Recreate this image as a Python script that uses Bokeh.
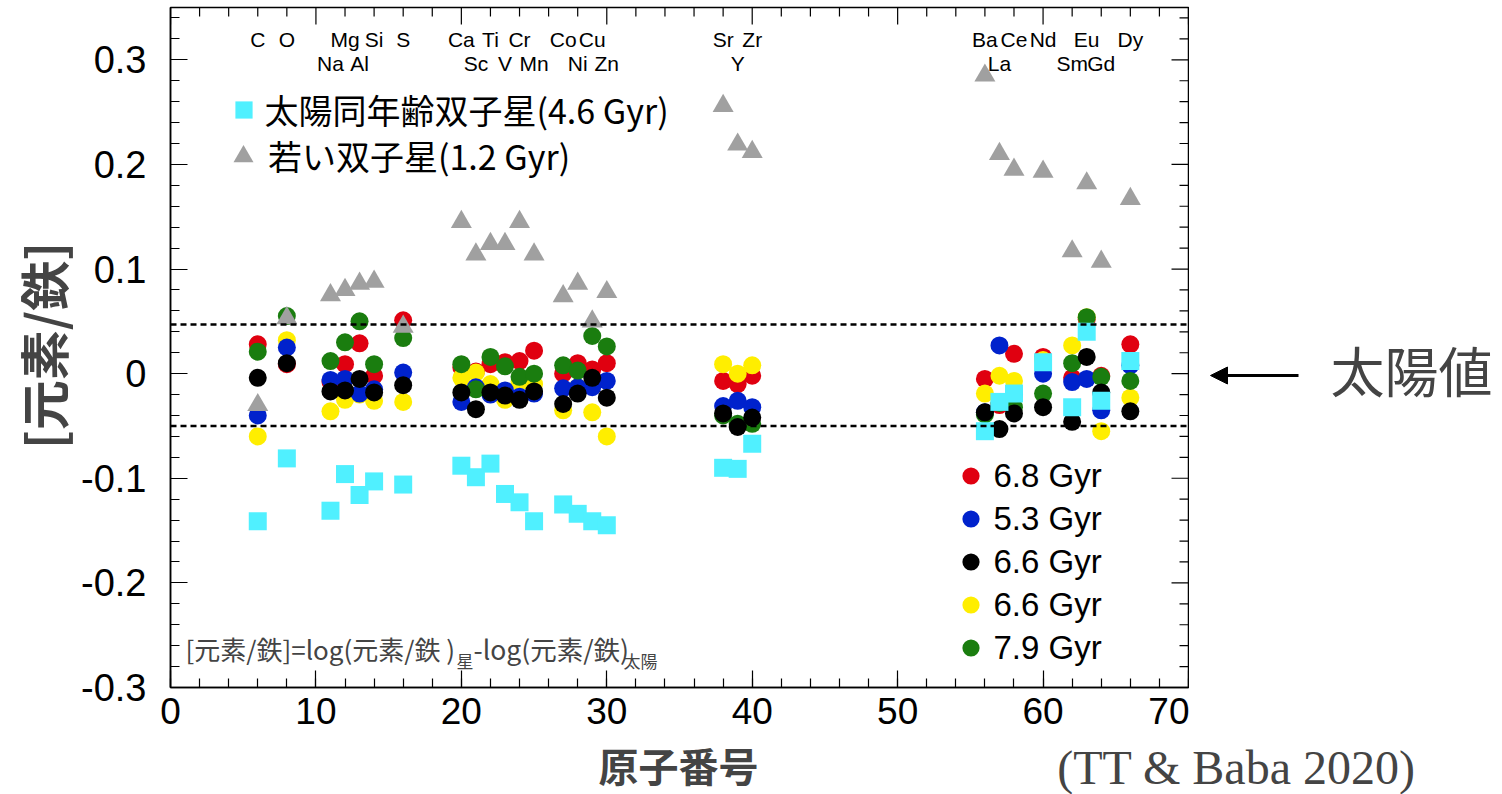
from bokeh.plotting import figure
from bokeh.layouts import row, column
from bokeh.models import (Range1d, LinearAxis, FixedTicker, CustomJSTickFormatter, Span, Label,
                          Arrow, NormalHead, Legend, LegendItem, ColumnDataSource)
from bokeh.core.properties import value
from bokeh.embed import file_html
from bokeh.resources import INLINE
import math

# ---------------- data ----------------
elements = ["C", "O", "Na", "Mg", "Al", "Si", "S", "Ca", "Sc", "Ti", "V", "Cr", "Mn", "Co", "Ni", "Cu", "Zn",
            "Sr", "Y", "Zr", "Ba", "La", "Ce", "Nd", "Sm", "Eu", "Gd", "Dy"]
atomic_number = [6, 8, 11, 12, 13, 14, 16, 20, 21, 22, 23, 24, 25, 27, 28, 29, 30,
                 38, 39, 40, 56, 57, 58, 60, 62, 63, 64, 66]

# [X/Fe] of the five old stars (circles)
star_68_red = [0.028, 0.009, -0.008, 0.009, 0.029, -0.002, 0.051, 0.006, 0.002, 0.009, 0.011, 0.012, 0.022,
               0.000, 0.010, 0.004, 0.010, -0.007, -0.010, -0.002, -0.005, -0.030, 0.019, 0.016, -0.004,
               0.052, -0.002, 0.028]
star_53_blue = [-0.040, 0.025, -0.006, -0.005, -0.019, -0.015, 0.001, -0.027, -0.013, -0.020, -0.016, -0.022,
                -0.019, -0.014, -0.013, -0.013, -0.007, -0.031, -0.026, -0.032, -0.037, 0.027, -0.020, 0.000,
                -0.008, -0.005, -0.035, 0.008]
star_66_black = [-0.004, 0.010, -0.017, -0.016, -0.005, -0.018, -0.011, -0.018, -0.034, -0.018, -0.021, -0.025,
                 -0.017, -0.029, -0.019, -0.004, -0.023, -0.038, -0.051, -0.042, -0.037, -0.053, -0.038, -0.032,
                 -0.046, 0.016, -0.018, -0.036]
star_66_yellow = [-0.060, 0.032, -0.036, -0.025, -0.020, -0.026, -0.027, -0.004, 0.001, -0.010, -0.025, -0.008,
                  -0.010, -0.035, -0.013, -0.037, -0.060, 0.009, 0.000, 0.008, -0.019, -0.002, -0.007, 0.013,
                  0.027, 0.054, -0.055, -0.023]
star_79_green = [0.021, 0.055, 0.012, 0.030, 0.050, 0.009, 0.034, 0.009, -0.015, 0.016, 0.007, -0.003, 0.000,
                 0.008, 0.003, 0.036, 0.026, -0.040, -0.048, -0.048, -0.039, -0.028, -0.032, -0.019, 0.010,
                 0.054, -0.003, -0.007]
# solar-age twins (4.6 Gyr, squares) and young twins (1.2 Gyr, triangles)
solar_age_twin = [-0.141, -0.081, -0.131, -0.096, -0.116, -0.103, -0.106, -0.088, -0.099, -0.086, -0.115, -0.123,
                  -0.141, -0.125, -0.134, -0.141, -0.145, -0.090, -0.091, -0.067, -0.055, -0.027, -0.019, 0.011,
                  -0.032, 0.040, -0.026, 0.012]
young_twin = [-0.030, 0.053, 0.075, 0.080, 0.086, 0.088, 0.045, 0.145, 0.114, 0.124, 0.124, 0.145, 0.114,
              0.074, 0.086, 0.050, 0.078, 0.256, 0.219, 0.212, 0.285, 0.210, 0.195, 0.193, 0.117, 0.182,
              0.107, 0.167]

x_tick_values = [0, 10, 20, 30, 40, 50, 60, 70]
y_tick_values = [-0.3, -0.2, -0.1, 0.0, 0.1, 0.2, 0.3]
solar_band = [-0.050, 0.047]

# ---------------- layout / style (not data) ----------------
label_tier = [0, 0, 1, 0, 1, 0, 0, 0, 1, 0, 1, 0, 1, 0, 1, 0, 1,
              0, 1, 0, 0, 1, 0, 0, 1, 0, 1, 0]
tier_y = [0.319, 0.296]

TOTAL_W, TOTAL_H = 1502, 794
LEFT_W = 78             # strip holding the y-axis title
BL, BR, BT, BB = 91, 1, 7, 49
FRAME_W, FRAME_H = 1019, 680
MAIN_W = BL + FRAME_W + BR
TOP_H = BT + FRAME_H + BB
RIGHT_W = TOTAL_W - LEFT_W - MAIN_W
FRAME_TOP, FRAME_BOTTOM = BT, BT + FRAME_H      # page pixels of the chart frame
X0, X1, Y0, Y1 = 0, 70, -0.3, 0.35
cjk = "Noto Sans CJK JP"


def blank_figure(w, h, xr, yr):
    f = figure(width=w, height=h, output_backend="svg", toolbar_location=None,
               x_range=xr, y_range=yr, min_border=0, x_axis_location=None, y_axis_location=None)
    f.grid.visible = False
    f.outline_line_color = None
    f.background_fill_color = "white"
    f.border_fill_color = "white"
    return f


p = figure(width=MAIN_W, height=TOP_H, output_backend="svg", toolbar_location=None,
           x_range=Range1d(X0, X1), y_range=Range1d(Y0, Y1),
           min_border_left=BL, min_border_right=BR, min_border_top=BT, min_border_bottom=BB,
           x_axis_location=None, y_axis_location=None)
p.grid.visible = False
p.outline_line_color = "black"
p.outline_line_width = 1.5
p.background_fill_color = "white"
p.border_fill_color = "white"

x_minor = list(range(0, 71, 2))
y_minor = [round(-0.3 + 0.02 * i, 2) for i in range(33)]
xticker = FixedTicker(ticks=x_tick_values, minor_ticks=x_minor)
yticker = FixedTicker(ticks=y_tick_values, minor_ticks=y_minor)
MAJ, MIN = 17, 9


def style_axis(ax):
    ax.axis_line_color = "black"
    ax.axis_line_width = 1.5
    ax.major_tick_in = MAJ
    ax.major_tick_out = 0
    ax.minor_tick_in = MIN
    ax.minor_tick_out = 0
    ax.major_tick_line_color = "black"
    ax.minor_tick_line_color = "black"
    ax.major_tick_line_width = 1.2
    ax.minor_tick_line_width = 1.2
    ax.major_label_text_color = "black"


xaxis = LinearAxis(ticker=xticker)
style_axis(xaxis)
xaxis.major_label_text_font = "Liberation Sans"
xaxis.major_label_text_font_size = "37px"
xaxis.major_label_standoff = 10
p.add_layout(xaxis, "below")

yaxis = LinearAxis(ticker=yticker,
                   formatter=CustomJSTickFormatter(code="const v = Math.round(tick*10)/10; return (v === 0) ? '0' : String(v);"))
style_axis(yaxis)
yaxis.major_label_text_font = "Liberation Sans"
yaxis.major_label_text_font_size = "38px"
yaxis.major_label_standoff = 24
p.add_layout(yaxis, "left")

# mirrored ticks on the top and right edges (ticks only, no labels)
pxx = FRAME_W / (X1 - X0)
pxy = FRAME_H / (Y1 - Y0)
top_x = x_tick_values + [v for v in x_minor if v not in x_tick_values]
top_len = [MAJ] * len(x_tick_values) + [MIN] * (len(top_x) - len(x_tick_values))
p.segment(x0=top_x, y0=[Y1] * len(top_x), x1=top_x, y1=[Y1 - L / pxy for L in top_len],
          line_color="black", line_width=1.2)
right_y = y_tick_values + [v for v in y_minor if all(abs(v - t) > 1e-9 for t in y_tick_values)]
right_len = [MAJ] * len(y_tick_values) + [MIN] * (len(right_y) - len(y_tick_values))
p.segment(x0=[X1] * len(right_y), y0=right_y, x1=[X1 - L / pxx for L in right_len], y1=right_y,
          line_color="black", line_width=1.2)

# solar band
for yv in solar_band:
    p.add_layout(Span(location=yv, dimension="width", line_color="black", line_width=2.5, line_dash="6 4"))

src = ColumnDataSource(dict(x=atomic_number, el=elements, r=star_68_red, b=star_53_blue, k=star_66_black,
                            yl=star_66_yellow, g=star_79_green, c=solar_age_twin, t=young_twin,
                            ly=[tier_y[t] for t in label_tier]))

p.text(x="x", y="ly", text="el", source=src, text_font=value("Liberation Sans"), text_font_size="21px",
       text_align="center", text_baseline="middle", text_color="black")

r_red = p.scatter("x", "r", source=src, marker="circle", size=18, fill_color="#e00010", line_color=None)
r_yel = p.scatter("x", "yl", source=src, marker="circle", size=18, fill_color="#ffee00", line_color=None)
r_blue = p.scatter("x", "b", source=src, marker="circle", size=18, fill_color="#0022cc", line_color=None)
r_green = p.scatter("x", "g", source=src, marker="circle", size=18, fill_color="#1a7d0f", line_color=None)
r_black = p.scatter("x", "k", source=src, marker="circle", size=18, fill_color="black", line_color=None)
r_cyan = p.scatter("x", "c", source=src, marker="square", size=18, fill_color="#50f0ff", line_color=None)
r_tri = p.scatter("x", "t", source=src, marker="triangle", size=21, fill_color="#a0a0a0", line_color=None)


def make_legend(items, loc, g, standoff, font, size, spacing=0):
    lg = Legend(items=items, location=loc, glyph_width=g, glyph_height=g, label_standoff=standoff,
                label_text_font=font, label_text_font_size=size, spacing=spacing, padding=0, margin=0,
                border_line_color=None, background_fill_alpha=0, label_text_color="black")
    p.add_layout(lg)


make_legend([LegendItem(label="太陽同年齢双子星(4.6 Gyr)", renderers=[r_cyan])], (51.5, 553.5), 43, 0, cjk, "34px")
make_legend([LegendItem(label="若い双子星(1.2 Gyr)", renderers=[r_tri])], (48, 506.4), 50, 0, cjk, "34px")
make_legend([LegendItem(label="6.8 Gyr", renderers=[r_red]),
             LegendItem(label="5.3 Gyr", renderers=[r_blue]),
             LegendItem(label="6.6 Gyr", renderers=[r_black]),
             LegendItem(label="6.6 Gyr", renderers=[r_yel]),
             LegendItem(label="7.9 Gyr", renderers=[r_green])], (778.5, 17.8), 43, 2,
            "Liberation Sans", "33px")


def slabel(fig, x, y, text, **kw):
    fig.add_layout(Label(x=x, y=y, x_units="screen", y_units="screen", text=text, **kw))


# formula (screen px from the frame's bottom-left corner)
slabel(p, 15, 39, "[元素/鉄]=log(元素/鉄 )", text_font=cjk, text_font_size="26px", text_baseline="alphabetic")
slabel(p, 286, 27, "星", text_font=cjk, text_font_size="17px", text_baseline="alphabetic")
slabel(p, 303, 39, "-log(元素/鉄)", text_font=cjk, text_font_size="26.5px", text_baseline="alphabetic")
slabel(p, 453, 27, "太陽", text_font=cjk, text_font_size="17px", text_baseline="alphabetic")

# ---- strip left of the chart: y-axis title (data coordinates = page pixels; frames share the row's borders) ----
pl = blank_figure(LEFT_W, TOP_H, Range1d(0, LEFT_W), Range1d(FRAME_BOTTOM, FRAME_TOP))
pl.add_layout(Label(x=41, y=345, text="[元素/鉄]", text_font=cjk, text_font_size="50px", text_font_style="bold",
                    text_align="center", text_baseline="middle", angle=math.pi / 2))

# ---- strip right of the chart: solar-value arrow ----
RX = LEFT_W + MAIN_W
pr = blank_figure(RIGHT_W, TOP_H, Range1d(RX, TOTAL_W), Range1d(FRAME_BOTTOM, FRAME_TOP))
pr.add_layout(Arrow(end=NormalHead(size=17, fill_color="black", line_color="black"),
                    x_start=1298, y_start=375, x_end=1210, y_end=375, line_width=3, line_color="black"))
pr.add_layout(Label(x=1330, y=369, text="太陽値", text_font=cjk, text_font_size="54px", text_baseline="middle"))

# ---- strip below: x-axis title and source ----
pb = blank_figure(TOTAL_W, TOTAL_H - TOP_H, Range1d(0, TOTAL_W), Range1d(TOTAL_H, TOP_H))
pb.add_layout(Label(x=678, y=764, text="原子番号", text_font=cjk,
                    text_font_size="40px", text_font_style="bold", text_align="center", text_baseline="alphabetic"))
pb.add_layout(Label(x=1236, y=767, text="(TT & Baba 2020)", text_font="Liberation Serif", text_font_size="48px",
                    text_align="center", text_baseline="middle"))

layout = column(row(pl, p, pr, spacing=0), pb, spacing=0)
open("out.html", "w").write(file_html(layout, INLINE))
